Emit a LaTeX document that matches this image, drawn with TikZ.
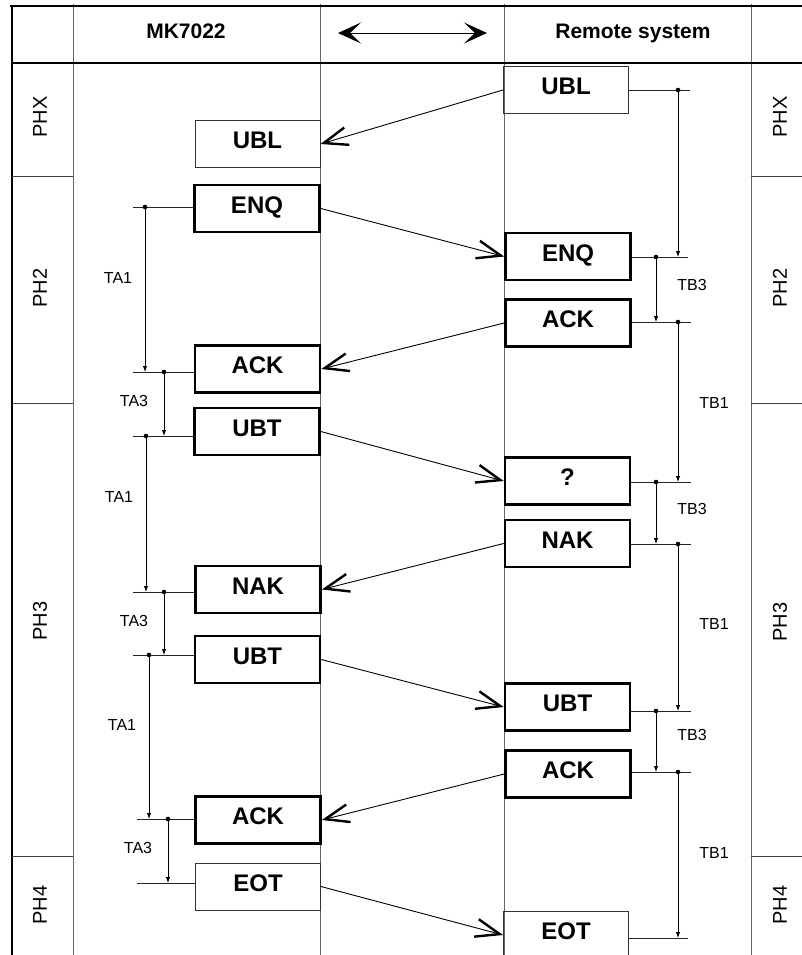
\documentclass[tikz,border=0pt]{standalone}
\usepackage{fontspec}
\setmainfont{Liberation Sans}
\usetikzlibrary{arrows.meta,calc}
\begin{document}
\begin{tikzpicture}[x=1pt,y=-1pt,
  lane/.style={draw=black!60, line width=0.9pt},
  frameline/.style={draw=black, line width=2.4pt},
  msgbox/.style={draw=black, line width=2.6pt, minimum width=125pt, minimum height=47pt, inner sep=0pt, text height=17pt, text depth=8pt, font=\fontsize{24}{24}\selectfont\bfseries},
  thinbox/.style={msgbox, line width=1pt, draw=black!80},
  msg/.style={draw=black, line width=0.9pt, -{Straight Barb[length=24pt,width=18pt,line width=2.4pt]}},
  tickline/.style={draw=black!85, line width=0.9pt},
  timer/.style={draw=black, line width=0.9pt, -{Latex[length=6pt,width=4.5pt]}},
  tlabel/.style={font=\fontsize{16}{16}\selectfont},
  phlabel/.style={font=\fontsize{20}{20}\selectfont, rotate=90},
  headtext/.style={font=\fontsize{21}{21}\selectfont\bfseries, anchor=base}
]
\useasboundingbox (0,0) rectangle (802,955);
\clip (0,0) rectangle (802,955);

% frame and lanes
\draw[lane] (73,4) -- (73,955);
\draw[lane] (320,4) -- (320,955);
\draw[lane] (504,4) -- (504,955);
\draw[lane] (751,4) -- (751,955);
\draw[frameline, line width=2pt] (10,6) -- (802,6);
\draw[frameline] (12,5) -- (12,955);
\draw[frameline, line width=2.6pt] (11,63) -- (802,63);
% phase separators
\foreach \yy in {176,403,856} {
  \draw[lane, draw=black!75] (12,\yy) -- (73,\yy);
  \draw[lane, draw=black!75] (751,\yy) -- (802,\yy);
}

% header
\node[headtext] (hL) at (186,39) {MK7022};
\node[headtext] (hR) at (633,39) {Remote system};
\coordinate (haL) at (338,33);
\coordinate (haR) at (487,33);
\draw[line width=0.9pt, {Stealth[length=23pt,width=21pt,inset=11pt]}-{Stealth[length=23pt,width=21pt,inset=11pt]}] (haL) -- (haR);

% phase labels
\node[phlabel] (p1l) at (40,117) {PHX};
\node[phlabel] (p2l) at (40,288) {PH2};
\node[phlabel] (p3l) at (40,621) {PH3};
\node[phlabel] (p4l) at (40,905) {PH4};
\node[phlabel] (p1r) at (780,117) {PHX};
\node[phlabel] (p2r) at (780,288) {PH2};
\node[phlabel] (p3r) at (780,622) {PH3};
\node[phlabel] (p4r) at (780,905) {PH4};

% left boxes
\node[thinbox] (L1) at (257.5,144) {UBL};
\node[msgbox]  (L2) at (257,208.5) {ENQ};
\node[msgbox]  (L3) at (257.5,369) {ACK};
\node[msgbox]  (L4) at (257,431.5) {UBT};
\node[msgbox]  (L5) at (258,589.5) {NAK};
\node[msgbox]  (L6) at (257.5,659.5) {UBT};
\node[msgbox]  (L7) at (258,820) {ACK};
\node[thinbox] (L8) at (258,886.5) {EOT};

% right boxes
\node[thinbox] (R1) at (566,90) {UBL};
\node[msgbox]  (R2) at (568,256.5) {ENQ};
\node[msgbox]  (R3) at (568,323) {ACK};
\node[msgbox]  (R4) at (567.5,481) {?};
\node[msgbox]  (R5) at (567.5,543.5) {NAK};
\node[msgbox]  (R6) at (567.5,707) {UBT};
\node[msgbox]  (R7) at (568,774) {ACK};
\node[thinbox] (R8) at (566,935) {EOT};

% messages
\draw[msg] (R1.west) -- (L1.east);
\draw[msg] (L2.east) -- (R2.west);
\draw[msg] (R3.west) -- (L3.east);
\draw[msg] (L4.east) -- (R4.west);
\draw[msg] (R5.west) -- (L5.east);
\draw[msg] (L6.east) -- (R6.west);
\draw[msg] (R7.west) -- (L7.east);
\draw[msg] (L8.east) -- (R8.west);

% left tick lines
\coordinate (tl2) at (133,207);
\coordinate (tl3) at (133,372);
\coordinate (tl4) at (133,436);
\coordinate (tl5) at (133,592);
\coordinate (tl6) at (133,655);
\coordinate (tl7) at (137,819);
\coordinate (tl8) at (137,883);
\foreach \b/\t in {L2/tl2,L3/tl3,L4/tl4,L5/tl5,L6/tl6,L7/tl7,L8/tl8}
  \draw[tickline] (\b.west |- \t) -- (\t);

% right tick lines
\coordinate (tr1) at (690,90);
\coordinate (tr2) at (688,257);
\coordinate (tr3) at (691,322);
\coordinate (tr4) at (691,482);
\coordinate (tr5) at (691,544);
\coordinate (tr6) at (691,711);
\coordinate (tr7) at (691,772);
\coordinate (tr8) at (688,938);
\foreach \b/\t in {R1/tr1,R2/tr2,R3/tr3,R4/tr4,R5/tr5,R6/tr6,R7/tr7,R8/tr8}
  \draw[tickline] (\b.east |- \t) -- (\t);

% left timers
\foreach \n/\xx/\ya/\yb in {a/145/207/372, b/164/372/436, c/146/436/592, d/164/592/655, e/149/655/819, f/168/819/883} {
  \coordinate (s\n) at (\xx,\ya);
  \coordinate (e\n) at (\xx,\yb);
  \fill (s\n) circle (2.3pt);
  \draw[timer] (s\n) -- (e\n);
}
% right timers
\foreach \n/\xx/\ya/\yb in {g/678/90/257, h/656/257/322, i/678/322/482, j/656/482/544, k/678/544/711, l/656/711/772, m/678/772/938} {
  \coordinate (s\n) at (\xx,\ya);
  \coordinate (e\n) at (\xx,\yb);
  \fill (s\n) circle (2.3pt);
  \draw[timer] (s\n) -- (e\n);
}

% timer labels
\node[tlabel] (ta1a) at (118,278) {TA1};
\node[tlabel] (ta3a) at (134,401) {TA3};
\node[tlabel] (ta1b) at (119,497) {TA1};
\node[tlabel] (ta3b) at (134,621) {TA3};
\node[tlabel] (ta1c) at (122,725) {TA1};
\node[tlabel] (ta3c) at (138,848) {TA3};
\node[tlabel] (tb3a) at (692,285) {TB3};
\node[tlabel] (tb1a) at (714,403) {TB1};
\node[tlabel] (tb3b) at (692,509) {TB3};
\node[tlabel] (tb1b) at (714,624) {TB1};
\node[tlabel] (tb3c) at (692,735) {TB3};
\node[tlabel] (tb1c) at (714,853) {TB1};
\end{tikzpicture}
\end{document}
